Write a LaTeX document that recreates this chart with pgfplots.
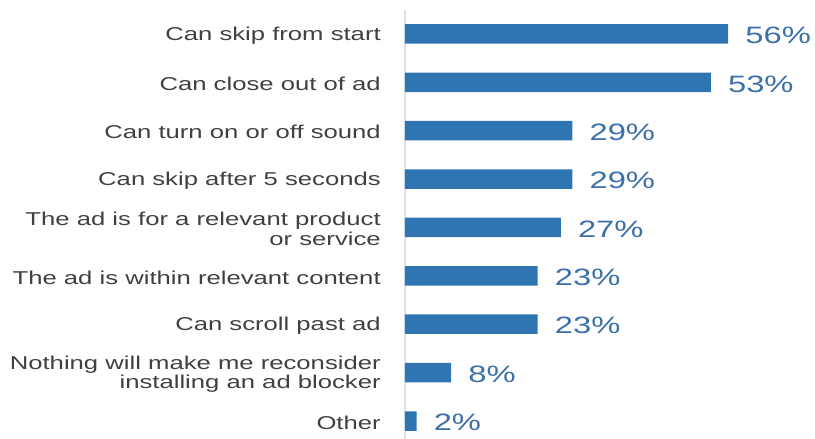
\documentclass[border=0pt]{standalone}
\usepackage{pgfplots}
\pgfplotsset{compat=1.18}
\usepackage{fontspec}
\setmainfont{Liberation Sans}
\definecolor{barblue}{HTML}{2E75B2}
\definecolor{numblue}{HTML}{3C70A8}
\definecolor{labgray}{HTML}{404040}
\definecolor{axgray}{HTML}{DDE3EA}
\begin{document}
\begin{tikzpicture}
\begin{axis}[
  at={(0,0)}, anchor=south west,
  scale only axis,
  width=346.2pt, height=429pt,
  xbar, bar width=19.5pt,
  xmin=0, xmax=60,
  ymin=-0.372, ymax=8.496,
  axis x line=none,
  axis y line*=left,
  y axis line style={draw=axgray, line width=1.5pt},
  ytick={0,...,8},
  yticklabels={Other,
    {Nothing will make me reconsider\\installing an ad blocker},
    Can scroll past ad,
    The ad is within relevant content,
    {The ad is for a relevant product\\or service},
    Can skip after 5 seconds,
    Can turn on or off sound,
    Can close out of ad,
    Can skip from start},
  major tick length=0pt,
  yticklabel style={align=right, anchor=east, xshift=-24pt, yshift=-1.5pt, text=labgray,
    font=\fontsize{18.6}{19.5}\selectfont, xscale=1.38, inner sep=0pt},
  point meta=x,
  nodes near coords={\pgfmathprintnumber[assume math mode=true]{\pgfplotspointmeta}\%},
  nodes near coords align={horizontal},
  every node near coord/.append style={anchor=west, xshift=17pt, yshift=-1.5pt, text=numblue,
    font=\fontsize{23.7}{24}\selectfont, xscale=1.38, inner sep=0pt},
  clip=false,
]
\addplot[fill=barblue, draw=none] coordinates {
  (2,0) (8,1) (23,2) (23,3) (27,4) (29,5) (29,6) (53,7) (56,8)
};
\end{axis}
\pgfresetboundingbox
\path (-405pt,0pt) rectangle (410pt,439pt);
\end{tikzpicture}
\end{document}
